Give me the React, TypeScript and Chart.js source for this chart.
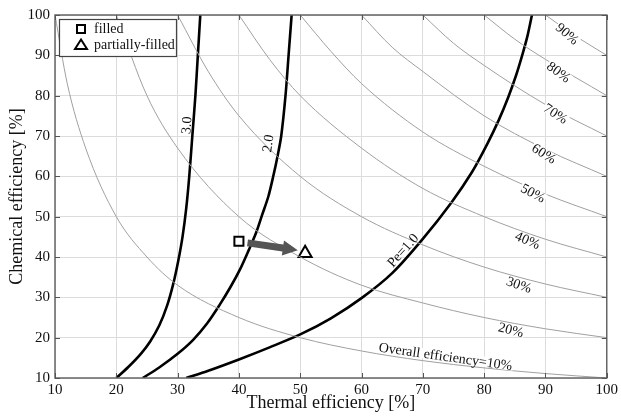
import React, { useEffect, useRef } from "react";
import { Chart, registerables } from "chart.js";

Chart.register(...registerables);

// ---------- data ----------
const xTickValues = [10, 20, 30, 40, 50, 60, 70, 80, 90, 100];
const yTickValues = [10, 20, 30, 40, 50, 60, 70, 80, 90, 100];

// Overall efficiency contours (gray)
const overall10X = [10, 12, 15, 20, 25, 30, 40, 50, 60, 70, 80, 90, 100];
const overall10Y = [100, 83, 67, 50, 40, 33, 25, 20, 16.7, 14.3, 12.5, 11.1, 10];
const overall20X = [20, 25, 30, 40, 50, 60, 70, 80, 90, 100];
const overall20Y = [100, 80, 67, 50, 40, 33, 28.6, 25, 22.2, 20];
const overall30X = [30, 35, 40, 50, 60, 70, 80, 90, 100];
const overall30Y = [100, 86, 75, 60, 50, 43, 37.5, 33.3, 30];
const overall40X = [40, 45, 50, 60, 70, 80, 90, 100];
const overall40Y = [100, 89, 80, 67, 57, 50, 44.4, 40];
const overall50X = [50, 55, 60, 70, 80, 90, 100];
const overall50Y = [100, 91, 83, 71, 62.5, 55.6, 50];
const overall60X = [60, 65, 70, 80, 90, 100];
const overall60Y = [100, 92, 86, 75, 66.7, 60];
const overall70X = [70, 75, 80, 90, 100];
const overall70Y = [100, 93, 87.5, 77.8, 70];
const overall80X = [80, 85, 90, 100];
const overall80Y = [100, 94, 89, 80];
const overall90X = [90, 95, 100];
const overall90Y = [100, 94.7, 90];

// Pe curves (black)
const pe3X = [20, 22, 24, 25.5, 27, 28.3, 29.3, 30.1, 30.8, 31.4, 31.9, 32.4, 32.9, 33.3, 33.7];
const pe3Y = [10, 12.8, 16, 19, 23, 28, 33.4, 39, 45, 52, 60, 70, 80, 90, 100];
const pe2X = [24.3, 27, 30, 32.5, 34.8, 36.8, 38.6, 40.2, 41.6, 42.8, 43.8, 44.8, 45.6, 46.3, 46.9, 47.6, 48.1, 48.6];
const pe2Y = [10, 12.6, 16, 19.4, 23.5, 28, 32.5, 37, 41.7, 46, 50.5, 55, 60, 65, 70, 80, 90, 100];
const pe1X = [31.4, 35, 40, 45, 50, 55, 60, 65, 70, 74.7, 78, 80.5, 82.4, 83.9, 85.2, 86.3, 87.1, 87.8];
const pe1Y = [10, 11.8, 14.6, 17.6, 20.8, 24.8, 29.8, 36, 44.5, 53.6, 61, 68, 74, 79.5, 85, 90.5, 95, 100];

// Operating points
const filledPoint = { x: 40, y: 43.9 };
const partialPoint = { x: 50.8, y: 40.9 };
const arrowFrom = [41.4, 43.5];
const arrowTo = [49.6, 41.7];

// Curve labels
const curveLabelTexts = ["3.0", "2.0", "Pe=1.0", "Overall efficiency=10%", "20%", "30%", "40%", "50%", "60%", "70%", "80%", "90%"];
const curveLabelX = [31.4, 44.7, 66.7, 73.7, 84.4, 85.7, 87.1, 88.0, 89.8, 91.7, 92.2, 93.6];
const curveLabelY = [72.7, 68.2, 41.7, 15.4, 22.0, 33.2, 44.2, 55.9, 65.7, 75.6, 85.9, 95.4];
const curveLabelAngle = [-86, -81, -48, 8, 14, 19, 23, 28, 32, 33, 37, 41];
const curveLabelBg = [false, false, false, true, true, true, true, true, true, true, true, true];

const legendLabels = ["filled", "partially-filled"];

const FONT = '"Liberation Serif", "Times New Roman", serif';

function zip(xs: number[], ys: number[]) {
  return xs.map((x, i) => ({ x, y: ys[i] }));
}

const overlayPlugin = {
  id: "overlay",
  afterDatasetsDraw(chart: any) {
    const { ctx, chartArea, scales } = chart;
    const { left, right, top, bottom } = chartArea;
    const xs = scales.x;
    const ys = scales.y;
    ctx.save();

    // arrow
    const ax1 = xs.getPixelForValue(arrowFrom[0]);
    const ay1 = ys.getPixelForValue(arrowFrom[1]);
    const ax2 = xs.getPixelForValue(arrowTo[0]);
    const ay2 = ys.getPixelForValue(arrowTo[1]);
    const ang = Math.atan2(ay2 - ay1, ax2 - ax1);
    const len = Math.hypot(ax2 - ax1, ay2 - ay1);
    ctx.translate(ax1, ay1);
    ctx.rotate(ang);
    ctx.fillStyle = "#555";
    ctx.beginPath();
    const headL = 15;
    const bodyW = 3.5;
    const headW = 7.5;
    ctx.moveTo(0, -bodyW);
    ctx.lineTo(len - headL, -bodyW);
    ctx.lineTo(len - headL, -headW);
    ctx.lineTo(len, 0);
    ctx.lineTo(len - headL, headW);
    ctx.lineTo(len - headL, bodyW);
    ctx.lineTo(0, bodyW);
    ctx.closePath();
    ctx.fill();
    ctx.setTransform(1, 0, 0, 1, 0, 0);

    // curve labels
    ctx.font = `14px ${FONT}`;
    ctx.textAlign = "center";
    ctx.textBaseline = "middle";
    curveLabelTexts.forEach((t, i) => {
      const px = xs.getPixelForValue(curveLabelX[i]);
      const py = ys.getPixelForValue(curveLabelY[i]);
      ctx.save();
      ctx.translate(px, py);
      ctx.rotate((curveLabelAngle[i] * Math.PI) / 180);
      if (curveLabelBg[i]) {
        const w = ctx.measureText(t).width;
        ctx.fillStyle = "#fff";
        ctx.fillRect(-w / 2 - 1, -5, w + 2, 10);
      }
      ctx.fillStyle = "#111";
      ctx.fillText(t, 0, 1);
      ctx.restore();
    });

    // frame
    ctx.strokeStyle = "#666";
    ctx.lineWidth = 1.5;
    ctx.strokeRect(left, top, right - left, bottom - top);

    // inner tick marks
    ctx.lineWidth = 1;
    ctx.strokeStyle = "#555";
    ctx.beginPath();
    xTickValues.forEach((v) => {
      const p = Math.round(xs.getPixelForValue(v)) + 0.5;
      ctx.moveTo(p, bottom);
      ctx.lineTo(p, bottom - 5);
      ctx.moveTo(p, top);
      ctx.lineTo(p, top + 5);
    });
    yTickValues.forEach((v) => {
      const p = Math.round(ys.getPixelForValue(v)) + 0.5;
      ctx.moveTo(left, p);
      ctx.lineTo(left + 5, p);
      ctx.moveTo(right, p);
      ctx.lineTo(right - 5, p);
    });
    ctx.stroke();

    // legend
    const lx = left + 4;
    const ly = top + 4;
    const lw = 117;
    const lh = 37;
    ctx.fillStyle = "#fff";
    ctx.fillRect(lx, ly, lw, lh);
    ctx.strokeStyle = "#444";
    ctx.lineWidth = 1.2;
    ctx.strokeRect(lx + 0.5, ly + 0.5, lw, lh);
    // square
    ctx.strokeStyle = "#000";
    ctx.lineWidth = 2;
    ctx.strokeRect(lx + 18, ly + 6, 8, 8);
    // triangle
    ctx.beginPath();
    ctx.moveTo(lx + 22, ly + 20.5);
    ctx.lineTo(lx + 28, ly + 30);
    ctx.lineTo(lx + 16, ly + 30);
    ctx.closePath();
    ctx.stroke();
    ctx.fillStyle = "#111";
    ctx.font = `14px ${FONT}`;
    ctx.textAlign = "left";
    ctx.textBaseline = "middle";
    ctx.fillText(legendLabels[0], lx + 35, ly + 10);
    ctx.fillText(legendLabels[1], lx + 35, ly + 26);

    ctx.restore();
  },
};

export default function App() {
  const canvasRef = useRef<HTMLCanvasElement | null>(null);

  useEffect(() => {
    document.body.style.margin = "0";
    const canvas = canvasRef.current;
    if (!canvas) return;

    const gray = (xs: number[], ys: number[]) => ({
      data: zip(xs, ys),
      showLine: true,
      borderColor: "#a0a0a0",
      borderWidth: 1,
      pointRadius: 0,
      cubicInterpolationMode: "monotone" as const,
    });
    const black = (xs: number[], ys: number[]) => ({
      data: zip(xs, ys),
      showLine: true,
      borderColor: "#000",
      borderWidth: 2.6,
      pointRadius: 0,
      tension: 0.3,
    });

    const chart = new Chart(canvas, {
      type: "scatter",
      data: {
        datasets: [
          gray(overall10X, overall10Y),
          gray(overall20X, overall20Y),
          gray(overall30X, overall30Y),
          gray(overall40X, overall40Y),
          gray(overall50X, overall50Y),
          gray(overall60X, overall60Y),
          gray(overall70X, overall70Y),
          gray(overall80X, overall80Y),
          gray(overall90X, overall90Y),
          black(pe3X, pe3Y),
          black(pe2X, pe2Y),
          black(pe1X, pe1Y),
          {
            label: legendLabels[0],
            data: [filledPoint],
            pointStyle: "rect",
            pointRadius: 6.4,
            pointBorderWidth: 2,
            pointBackgroundColor: "#fff",
            pointBorderColor: "#000",
            showLine: false,
          },
          {
            label: legendLabels[1],
            data: [partialPoint],
            pointStyle: "triangle",
            pointRadius: 7.5,
            pointBorderWidth: 2,
            pointBackgroundColor: "#fff",
            pointBorderColor: "#000",
            showLine: false,
          },
        ] as any,
      },
      options: {
        animation: false,
        responsive: false,
        maintainAspectRatio: false,
        layout: { padding: { top: 15, right: 13, left: 0, bottom: 0 } },
        plugins: {
          legend: { display: false },
          tooltip: { enabled: false },
        },
        scales: {
          x: {
            type: "linear",
            min: 10,
            max: 100,
            afterBuildTicks: (s: any) => {
              s.ticks = xTickValues.map((v) => ({ value: v }));
            },
            ticks: {
              font: { family: FONT, size: 15 },
              color: "#111",
              padding: 3,
              maxRotation: 0,
              autoSkip: false,
            },
            grid: { color: "#dcdcdc", lineWidth: 1, drawTicks: false },
            border: { display: false },
            title: {
              display: true,
              text: "Thermal efficiency [%]",
              font: { family: FONT, size: 18, lineHeight: 1.2 },
              color: "#111",
              padding: { top: 0, bottom: 2 },
            },
            afterFit: (s: any) => {
              s.height = 38;
            },
          },
          y: {
            type: "linear",
            min: 10,
            max: 100,
            afterBuildTicks: (s: any) => {
              s.ticks = yTickValues.map((v) => ({ value: v }));
            },
            ticks: {
              font: { family: FONT, size: 15 },
              color: "#111",
              padding: 5,
              autoSkip: false,
            },
            grid: { color: "#dcdcdc", lineWidth: 1, drawTicks: false },
            border: { display: false },
            title: {
              display: true,
              text: "Chemical efficiency [%]",
              font: { family: FONT, size: 18, lineHeight: 1.2 },
              color: "#111",
              padding: { top: 6, bottom: 0 },
            },
            afterFit: (s: any) => {
              s.width = 55;
            },
          },
        },
      },
      plugins: [overlayPlugin],
    });

    return () => chart.destroy();
  }, []);

  return (
    <div style={{ position: "absolute", left: 0, top: 0, width: 621, height: 416, background: "#fff" }}>
      <canvas ref={canvasRef} width={621} height={416} />
    </div>
  );
}
